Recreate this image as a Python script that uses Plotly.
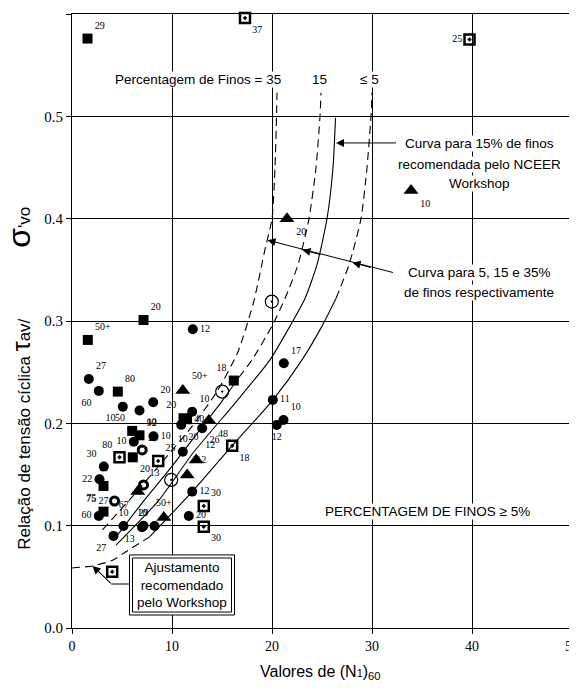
import plotly.graph_objects as go

# ---------------- data ----------------
# filled squares
sq_x = [1.55, 7.15, 1.58, 4.58, 6.02, 6.75, 6.08, 3.15, 3.15, 16.18, 11.15, 11.5]
sq_y = [0.576, 0.301, 0.2815, 0.231, 0.1926, 0.1883, 0.1668, 0.1388, 0.1137, 0.2418, 0.205, 0.204]
sq_lbl = ["29", "20", "50+", "80", "50", "92", "20", "75", "75", "18", "20", "40"]
sq_pos = ["top right", "top right", "top right", "top right", "top left", "top right",
          "bottom right", "bottom left", "top left", "top left", "top left", "middle right"]

# filled circles
ci_x = [1.68, 2.68, 5.08, 6.75, 8.12, 12.08, 8.15, 6.18, 3.18, 2.75, 2.68, 5.15, 7.15, 8.25,
        4.15, 7.0, 21.18, 20.08, 21.15, 20.48, 12.02, 13.02, 10.92, 11.08, 12.02, 11.68]
ci_y = [0.2434, 0.2317, 0.2163, 0.2125, 0.2206, 0.292, 0.1874, 0.182, 0.1577, 0.1453, 0.1095,
        0.0997, 0.1, 0.0997, 0.09, 0.0985, 0.2587, 0.2229, 0.2033, 0.1984, 0.2114, 0.1952,
        0.1985, 0.1723, 0.1333, 0.1095]
ci_lbl = ["27", "60", "10", "10", "20", "12", "10", "10", "30", "22", "60", "10", "29", "10",
          "27", "13", "17", "11", "10", "12", "10", "26", "20", "10", "12", "20"]
ci_pos = ["top right", "bottom left", "bottom left", "bottom right", "top right", "middle right",
          "middle right", "middle left", "top left", "middle left", "middle left", "top center",
          "top center", "top left", "bottom left", "bottom left", "top right", "middle right",
          "top right", "bottom center", "top right", "bottom right", "bottom right", "top center",
          "middle right", "middle right"]

# half-filled circles
hc_x = [7.02, 7.15, 4.25]
hc_y = [0.174, 0.1398, 0.1241]
hc_lbl = ["20", "13", "27"]
hc_pos = ["top right", "top right", "middle left"]

# filled triangles
tr_x = [33.9, 21.5, 11.08, 13.68, 12.42, 11.52, 6.58, 9.18]
tr_y = [0.4275, 0.400, 0.232, 0.2027, 0.1642, 0.1496, 0.1333, 0.108]
tr_lbl = ["10", "20", "50+", "48", "12", "12", "67", "50+"]
tr_pos = ["bottom right", "bottom right", "top right", "bottom right", "top right",
          "top right", "bottom left", "top center"]

# squares with dot
sd_x = [17.3, 39.75, 4.75, 8.62, 16.02, 13.18, 13.18, 4.02]
sd_y = [0.596, 0.575, 0.1668, 0.1632, 0.178, 0.1193, 0.099, 0.055]
sd_lbl = ["37", "25", "80", "25", "18", "30", "30", ""]
sd_pos = ["bottom right", "middle left", "top left", "top right", "bottom right", "top right",
          "bottom right", "middle right"]

# circles with dot
cd_x = [15.02, 19.98, 9.92]
cd_y = [0.231, 0.319, 0.1447]

# curves: 35 % fines (dashed)
c35_x = [3.05, 6.0, 9.0, 12.0, 14.5, 16.6, 18.2, 19.3, 20.0, 20.3, 20.45, 20.5]
c35_y = [0.096, 0.128, 0.162, 0.197, 0.231, 0.27, 0.32, 0.37, 0.40, 0.45, 0.50, 0.523]
# 15 % fines (solid lower part, dashed upper part)
c15_low_x = [4.1, 7.0, 9.75, 12.5, 15.1, 16.7]
c15_low_y = [0.085, 0.122, 0.155, 0.19, 0.223, 0.245]
c15_up_x = [16.7, 18.0, 20.0, 21.3, 22.6, 23.7, 24.4, 24.8, 24.9]
c15_up_y = [0.245, 0.262, 0.295, 0.322, 0.355, 0.40, 0.45, 0.50, 0.523]
# curve recommended by the workshop (solid)
cn_x = [4.4, 8.7, 12.1, 16.5, 19.8, 21.8, 23.3, 24.5, 25.5, 26.1, 26.35]
cn_y = [0.081, 0.125, 0.171, 0.222, 0.262, 0.295, 0.322, 0.355, 0.40, 0.45, 0.4985]
# <= 5 % fines (solid lower, dashed upper)
c5_low_x = [7.75, 12.0, 16.0, 20.1, 23.0, 25.0, 26.4]
c5_low_y = [0.089, 0.133, 0.178, 0.223, 0.262, 0.295, 0.322]
c5_up_x = [26.4, 27.7, 28.9, 29.5, 29.9, 30.0]
c5_up_y = [0.322, 0.355, 0.40, 0.45, 0.50, 0.523]
# workshop adjustment of the lower end (dashed)
cw_x = [0.0, 2.05, 4.0, 5.4, 7.75]
cw_y = [0.0587, 0.0606, 0.066, 0.0746, 0.089]

# ---------------- figure ----------------
SERIF = "Times New Roman, Liberation Serif, serif"
SANS = "Arial, Liberation Sans, sans-serif"

fig = go.Figure()
DASH = "8px,5px"
line_sets = [
    (c35_x, c35_y, DASH), (c15_low_x, c15_low_y, "solid"), (c15_up_x, c15_up_y, DASH),
    (cn_x, cn_y, "solid"), (c5_low_x, c5_low_y, "solid"), (c5_up_x, c5_up_y, DASH),
    (cw_x, cw_y, DASH),
]
for lx, ly, dsh in line_sets:
    fig.add_trace(go.Scatter(x=lx, y=ly, mode="lines",
                             line=dict(color="black", width=1.1, dash=dsh, shape="spline", smoothing=0.6),
                             hoverinfo="skip", showlegend=False))

lblfont = dict(family=SERIF, size=10, color="black")

def add_pts(x, y, lbl, pos, symbol, size, lw=0, color="black"):
    fig.add_trace(go.Scatter(x=x, y=y, mode="markers+text", text=lbl, textposition=pos,
                             textfont=lblfont, cliponaxis=False,
                             marker=dict(symbol=symbol, size=size, color=color,
                                         line=dict(color="black", width=lw)),
                             showlegend=False))

add_pts(sq_x, sq_y, sq_lbl, sq_pos, "square", 10)
add_pts(ci_x, ci_y, ci_lbl, ci_pos, "circle", 10)
add_pts(hc_x, hc_y, hc_lbl, hc_pos, "circle-open", 8, lw=3)
add_pts(tr_x, tr_y, tr_lbl, tr_pos, "triangle-up", 13)
add_pts(sd_x, sd_y, sd_lbl, sd_pos, "square-open-dot", 10, lw=2.5)
add_pts(cd_x, cd_y, [""] * len(cd_x), ["middle right"] * len(cd_x), "circle-open-dot", 13, lw=1.2)

def note(text, x, y, xanchor="center", size=13.5):
    fig.add_annotation(x=x, y=y, xref="x", yref="y", text=text, showarrow=False,
                       xanchor=xanchor, yanchor="middle", bgcolor="white", borderpad=0,
                       font=dict(family=SANS, size=size, color="black"))

note("Percentagem de Finos = 35", 4.15, 0.5357, xanchor="left")
note("15", 24.75, 0.5357)
note("\u2264 5", 29.75, 0.5357)
note("Curva para 15% de finos", 40.75, 0.4736)
note("recomendada pelo NCEER", 40.75, 0.4526)
note("Workshop", 40.75, 0.4345)
note("Curva para 5, 15 e 35%", 40.7, 0.347)
note("de finos respectivamente", 40.7, 0.3275)
note("PERCENTAGEM DE FINOS \u2265 5%", 35.55, 0.1134)

def arrow(x, y, ax, ay):
    fig.add_annotation(x=x, y=y, ax=ax, ay=ay, xref="x", yref="y", axref="x", ayref="y",
                       text="", showarrow=True, arrowhead=2, arrowsize=1.6, arrowwidth=1,
                       arrowcolor="black", standoff=0)

arrow(26.4, 0.474, 32.55, 0.474)
arrow(19.55, 0.379, 32.25, 0.347)
arrow(23.05, 0.3695, 25.0, 0.3645)
arrow(28.05, 0.357, 30.0, 0.352)

# box "Ajustamento recomendado pelo Workshop"
fig.add_shape(type="rect", xref="x", yref="y", x0=5.75, x1=16.25, y0=0.0127, y1=0.0714,
              line=dict(color="black", width=1), fillcolor="white")
fig.add_shape(type="rect", xref="x", yref="y", x0=6.05, x1=15.95, y0=0.0156, y1=0.0684,
              line=dict(color="black", width=1))
fig.add_annotation(x=11.0, y=0.042, xref="x", yref="y", showarrow=False,
                   text="Ajustamento<br>recomendado<br>pelo Workshop",
                   font=dict(family=SANS, size=13.5, color="black"))
fig.add_shape(type="path", xref="x", yref="y", path="M 5.75 0.043 L 3.95 0.043 L 2.6 0.056",
              line=dict(color="black", width=1))
arrow(2.05, 0.0606, 3.95, 0.043)

# axis titles
gap = "\u00a0" * 15
fig.add_annotation(xref="paper", yref="paper", x=-0.106, y=0.406, xanchor="center", yanchor="middle",
                   textangle=-90, showarrow=False,
                   text="Relação de tensão cíclica <span style='font-size:25px'>\u03c4</span>av/"
                        + gap + "<span style='font-size:32px'>\u03c3</span>'vo",
                   font=dict(family=SANS, size=17, color="black"))
fig.add_annotation(xref="paper", yref="paper", x=0.496, y=-0.072, xanchor="center", yanchor="middle",
                   showarrow=False,
                   text="Valores de (N<span style='font-size:11px'>1</span>)<sub>60</sub>",
                   font=dict(family=SANS, size=16, color="black"))

fig.update_layout(
    width=577, height=696, margin=dict(l=64, r=13, t=6, b=76),
    paper_bgcolor="white", plot_bgcolor="white",
    xaxis=dict(range=[0, 50], dtick=10, tick0=0, showgrid=True, gridcolor="black", gridwidth=1,
               showline=True, linecolor="black", linewidth=1, mirror=True, zeroline=False,
               ticks="outside", ticklen=5, tickcolor="black",
               tickfont=dict(family=SERIF, size=14, color="black")),
    yaxis=dict(range=[0, 0.6], dtick=0.1, tick0=0, tickformat=".1f", showgrid=True,
               gridcolor="black", gridwidth=1, showline=True, linecolor="black", linewidth=1,
               mirror=True, zeroline=False, ticks="outside", ticklen=5, tickcolor="black",
               tickfont=dict(family=SERIF, size=15, color="black")),
)

fig.write_html("out.html")
